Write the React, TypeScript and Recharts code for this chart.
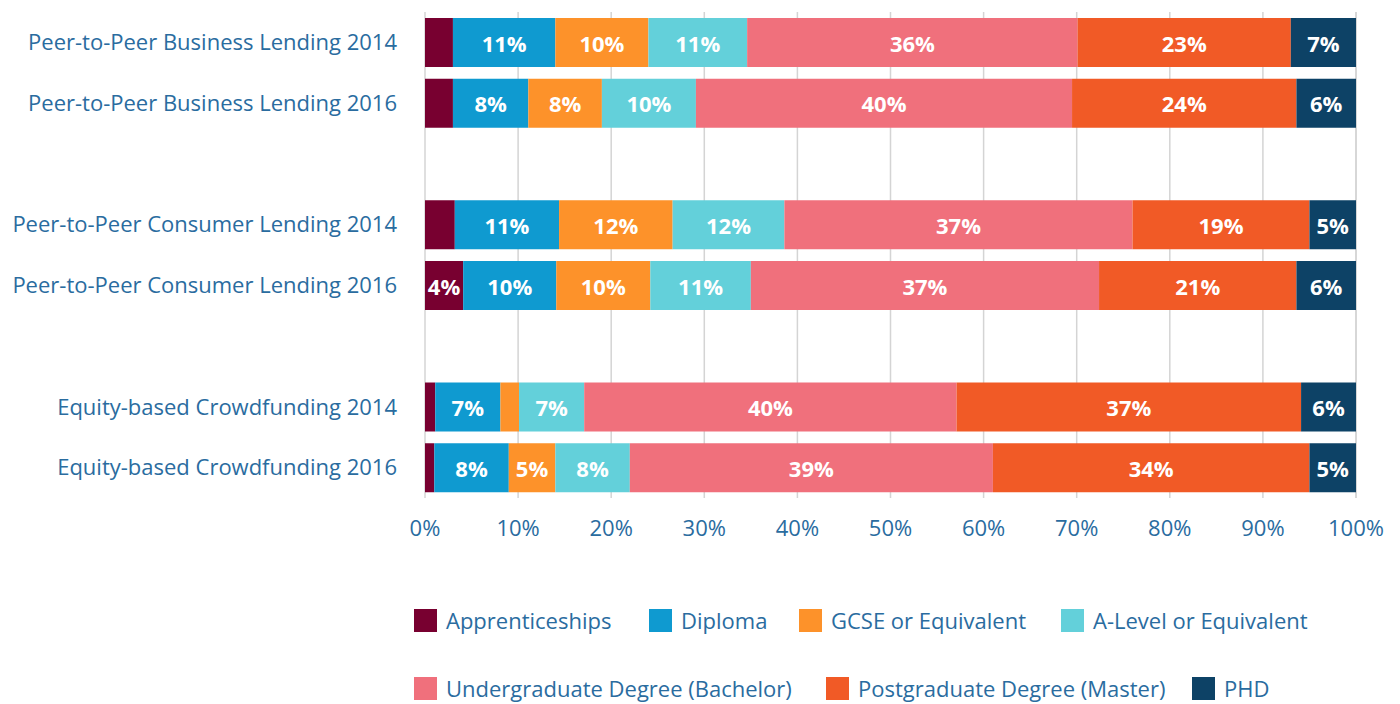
import {
  BarChart,
  Bar,
  XAxis,
  YAxis,
  CartesianGrid,
  Legend,
  LabelList,
} from "recharts";

const categories = [
  "Peer-to-Peer Business Lending 2014",
  "Peer-to-Peer Business Lending 2016",
  "gap-1",
  "Peer-to-Peer Consumer Lending 2014",
  "Peer-to-Peer Consumer Lending 2016",
  "gap-2",
  "Equity-based Crowdfunding 2014",
  "Equity-based Crowdfunding 2016",
];

const apprenticeships = [3.0, 3.0, null, 3.2, 4.1, null, 1.1, 1.0];
const diploma = [11.0, 8.1, null, 11.2, 10.0, null, 7.0, 8.0];
const gcse = [10.0, 7.9, null, 12.2, 10.1, null, 2.0, 5.0];
const aLevel = [10.6, 10.1, null, 12.0, 10.8, null, 7.0, 8.0];
const undergraduate = [35.5, 40.4, null, 37.4, 37.4, null, 40.0, 39.0];
const postgraduate = [22.9, 24.1, null, 19.0, 21.2, null, 37.0, 34.0];
const phd = [7.0, 6.4, null, 5.0, 6.4, null, 5.9, 5.0];

const xTicks = [0, 10, 20, 30, 40, 50, 60, 70, 80, 90, 100];

const series = [
  { key: "appr", name: "Apprenticeships", color: "#780030", values: apprenticeships },
  { key: "diploma", name: "Diploma", color: "#0f9ad0", values: diploma },
  { key: "gcse", name: "GCSE or Equivalent", color: "#fd922a", values: gcse },
  { key: "alevel", name: "A-Level or Equivalent", color: "#63d0da", values: aLevel },
  { key: "ug", name: "Undergraduate Degree (Bachelor)", color: "#f0707c", values: undergraduate },
  { key: "pg", name: "Postgraduate Degree (Master)", color: "#f15a26", values: postgraduate },
  { key: "phd", name: "PHD", color: "#0d4266", values: phd },
];

const data = categories.map((name, i) => {
  const row: Record<string, string | number | null> = { name };
  series.forEach((s) => {
    row[s.key] = s.values[i];
  });
  return row;
});

const FONT = "'Open Sans', sans-serif";
const TEXT = "#2a6c9f";

const renderBarLabel = (props: any) => {
  const { x, y, width, height, value } = props;
  if (value == null || Math.round(value) < 4) return null;
  return (
    <text
      x={x + width / 2}
      y={y + height / 2}
      fill="#fff"
      fontSize={22}
      fontWeight={700}
      fontFamily={FONT}
      textAnchor="middle"
      dominantBaseline="central"
    >
      {Math.round(value)}%
    </text>
  );
};

// legend rows and item widths copied from the reference layout
const legendRows = [
  [0, 1, 2, 3],
  [4, 5, 6],
];
const legendWidths = [
  [235, 150, 262, 300],
  [412, 366, 200],
];

const renderLegend = () => (
  <div style={{ paddingLeft: 406, fontFamily: FONT, fontSize: 22, color: TEXT }}>
    {legendRows.map((row, r) => (
      <div
        key={r}
        style={{ display: "flex", height: 28, alignItems: "center", marginBottom: r === 0 ? 40 : 0 }}
      >
        {row.map((idx, j) => (
          <div
            key={idx}
            style={{ width: legendWidths[r][j], display: "flex", alignItems: "center", whiteSpace: "nowrap" }}
          >
            <span
              style={{ width: 23, height: 23, background: series[idx].color, marginRight: 9, display: "inline-block" }}
            />
            {series[idx].name}
          </div>
        ))}
      </div>
    ))}
  </div>
);

export default function App() {
  return (
    <BarChart
      width={1384}
      height={696}
      data={data}
      layout="vertical"
      margin={{ top: 4, right: 36, left: 0, bottom: 46 }}
      barSize={49}
    >
      <CartesianGrid horizontal={false} stroke="#d4d4d4" strokeWidth={1.5} />
      <XAxis
        type="number"
        domain={[0, 100]}
        ticks={xTicks}
        tickFormatter={(v) => `${v}%`}
        axisLine={false}
        tickLine={false}
        tickMargin={16}
        height={60}
        tick={{ fontSize: 22, fill: TEXT, fontFamily: FONT }}
        interval={0}
      />
      <YAxis
        type="category"
        dataKey="name"
        width={417}
        axisLine={false}
        tickLine={false}
        tickMargin={22}
        interval={0}
        tickFormatter={(v: string) => (v.startsWith("gap") ? "" : v)}
        tick={{ fontSize: 22, fill: TEXT, fontFamily: FONT }}
      />
      <Legend
        content={renderLegend}
        wrapperStyle={{ top: 598, left: 0, width: 1384, height: 100 }}
      />
      {series.map((s) => (
        <Bar key={s.key} dataKey={s.key} name={s.name} stackId="a" fill={s.color} isAnimationActive={false}>
          <LabelList dataKey={s.key} content={renderBarLabel} />
        </Bar>
      ))}
    </BarChart>
  );
}
